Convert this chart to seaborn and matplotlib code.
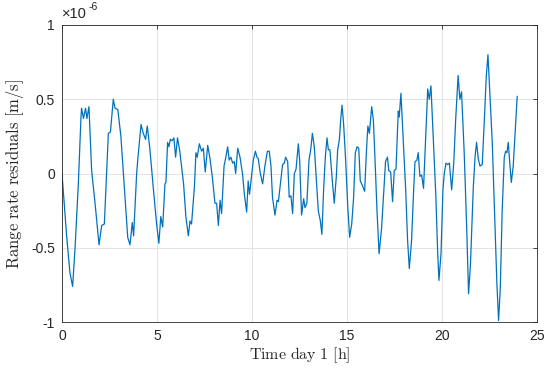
import matplotlib
matplotlib.use("Agg")
import matplotlib.pyplot as plt
import pandas as pd
import seaborn as sns

# Time [h] and range rate residuals [1e-6 m/s]
time_h = [
    0.0, 0.25, 0.42, 0.56, 0.68, 0.86, 1.0, 1.03, 1.13, 1.24, 1.31, 1.42, 1.56, 1.74,
    1.95, 2.09, 2.23, 2.44, 2.55, 2.7, 2.79, 2.94, 3.1, 3.32, 3.46, 3.58, 3.7, 3.77,
    3.93, 4.0, 4.16, 4.28, 4.4, 4.49, 4.63, 4.8, 4.98, 5.1, 5.2, 5.3, 5.42, 5.47,
    5.56, 5.63, 5.7, 5.8, 5.89, 5.98, 6.08, 6.2, 6.4, 6.52, 6.65, 6.74, 6.82, 6.97,
    7.05, 7.12, 7.23, 7.35, 7.44, 7.54, 7.67, 7.79, 7.91, 8.05, 8.14, 8.23, 8.32,
    8.4, 8.53, 8.61, 8.72, 8.8, 8.89, 8.98, 9.07, 9.14, 9.25, 9.37, 9.5, 9.6, 9.72,
    9.8, 9.87, 9.95, 10.07, 10.18, 10.26, 10.33, 10.44, 10.56, 10.68, 10.81, 10.91,
    11.0, 11.08, 11.21, 11.32, 11.39, 11.51, 11.61, 11.7, 11.77, 11.88, 11.96, 12.05,
    12.14, 12.23, 12.32, 12.44, 12.51, 12.61, 12.72, 12.79, 12.89, 13.0, 13.09,
    13.18, 13.28, 13.39, 13.49, 13.6, 13.68, 13.77, 13.86, 13.95, 14.02, 14.1, 14.23,
    14.33, 14.44, 14.51, 14.6, 14.68, 14.74, 14.82, 14.93, 15.04, 15.14, 15.25,
    15.35, 15.44, 15.53, 15.62, 15.7, 15.81, 15.93, 16.02, 16.1, 16.18, 16.3, 16.39,
    16.49, 16.58, 16.69, 16.82, 16.9, 17.03, 17.13, 17.2, 17.3, 17.4, 17.49, 17.58,
    17.7, 17.75, 17.84, 17.96, 18.09, 18.19, 18.28, 18.4, 18.51, 18.58, 18.68, 18.75,
    18.84, 18.93, 19.03, 19.13, 19.25, 19.33, 19.42, 19.54, 19.68, 19.77, 19.84,
    19.95, 20.05, 20.12, 20.21, 20.3, 20.39, 20.51, 20.62, 20.72, 20.85, 20.94,
    21.03, 21.17, 21.3, 21.4, 21.5, 21.65, 21.74, 21.82, 21.91, 22.0, 22.12, 22.23,
    22.33, 22.42, 22.51, 22.65, 22.79, 22.89, 22.98, 23.07, 23.17, 23.28, 23.35,
    23.42, 23.49, 23.58, 23.65, 23.75, 23.86, 23.96,
]
residual_um = [
    0.0, -0.43, -0.67, -0.76, -0.52, -0.07, 0.38, 0.44, 0.37, 0.44, 0.37, 0.45, 0.02,
    -0.2, -0.48, -0.35, -0.34, 0.27, 0.28, 0.5, 0.44, 0.43, 0.25, -0.16, -0.43, -0.48,
    -0.33, -0.42, 0.0, 0.11, 0.33, 0.27, 0.23, 0.32, 0.16, -0.09, -0.34, -0.47,
    -0.29, -0.36, -0.07, -0.06, 0.21, 0.18, 0.23, 0.22, 0.24, 0.11, 0.24, 0.15, -0.07,
    -0.29, -0.42, -0.32, -0.34, -0.09, 0.14, 0.11, 0.2, 0.15, 0.17, 0.01, 0.19, 0.1,
    -0.02, -0.2, -0.2, -0.35, -0.18, -0.27, 0.05, 0.1, 0.18, 0.09, 0.11, 0.07, 0.08,
    0.0, 0.17, 0.11, 0.0, -0.14, -0.26, -0.05, -0.14, -0.05, 0.09, 0.15, 0.11, 0.1,
    0.0, -0.07, 0.05, 0.15, 0.15, 0.05, -0.16, -0.28, -0.18, -0.19, -0.05, 0.06, 0.07,
    0.11, 0.08, -0.16, -0.15, -0.27, 0.0, 0.03, 0.2, 0.09, -0.28, -0.17, -0.23, -0.2,
    0.09, 0.16, 0.27, 0.18, -0.05, -0.25, -0.32, -0.41, -0.11, 0.11, 0.24, 0.16, 0.16,
    -0.05, -0.2, -0.02, 0.16, 0.23, 0.38, 0.46, 0.34, 0.09, -0.22, -0.43, -0.34,
    -0.16, 0.14, 0.18, 0.17, -0.05, -0.08, -0.12, 0.14, 0.32, 0.27, 0.45, 0.36, 0.05,
    -0.25, -0.54, -0.37, -0.2, 0.08, 0.11, 0.02, 0.01, -0.19, 0.02, 0.03, 0.42, 0.38,
    0.54, 0.23, -0.11, -0.45, -0.64, -0.45, -0.11, 0.08, 0.09, 0.14, -0.02, -0.01,
    -0.1, 0.2, 0.57, 0.5, 0.59, 0.25, -0.16, -0.52, -0.72, -0.54, -0.11, 0.0, 0.07,
    0.06, 0.07, -0.11, 0.07, 0.36, 0.66, 0.5, 0.55, 0.14, -0.36, -0.81, -0.61, -0.09,
    0.11, 0.21, 0.1, 0.05, 0.06, 0.36, 0.65, 0.8, 0.57, 0.2, -0.36, -0.74, -0.99,
    -0.77, -0.25, 0.11, 0.15, 0.14, 0.21, 0.05, -0.06, 0.05, 0.29, 0.52,
]

df = pd.DataFrame({"time": time_h, "residual": residual_um})

sns.set_style("white")
plt.rcParams["font.family"] = ["Liberation Sans", "DejaVu Sans"]
plt.rcParams["mathtext.fontset"] = "cm"
plt.rcParams["axes.unicode_minus"] = False

fig = plt.figure(figsize=(5.5, 3.72), dpi=100)
ax = fig.add_axes([0.1127, 0.1344, 0.8636, 0.7984])

sns.lineplot(data=df, x="time", y="residual", ax=ax, color="#0072BD", linewidth=0.9)

ax.set_xlim(0, 25)
ax.set_ylim(-1, 1)
ax.set_xticks([0, 5, 10, 15, 20, 25])
ax.set_yticks([-1, -0.5, 0, 0.5, 1])
ax.set_yticklabels(["-1", "-0.5", "0", "0.5", "1"])
ax.grid(True, color="#e3e3e3", linewidth=0.7)
ax.set_axisbelow(True)
ax.tick_params(direction="in", length=3, width=0.6, labelsize=10, colors="#262626",
               top=True, right=True, pad=5)
for side in ax.spines.values():
    side.set_color("#262626")
    side.set_linewidth(0.6)

ax.set_xlabel(r"$\mathrm{Time\ day\ 1\ [h]}$", fontsize=11.5, color="#262626", labelpad=2)
ax.set_ylabel(r"$\mathrm{Range\ rate\ residuals\ [m/s]}$", fontsize=12, color="#262626",
              labelpad=4)

# MATLAB style exponent label above the y axis
ax.text(0.0, 1.012, "\u00d710", transform=ax.transAxes, fontsize=10.5, color="#262626",
        ha="left", va="bottom")
ax.text(0.056, 1.045, "-6", transform=ax.transAxes, fontsize=7.5, color="#262626",
        ha="left", va="bottom")

fig.savefig("out.png", dpi=100)
